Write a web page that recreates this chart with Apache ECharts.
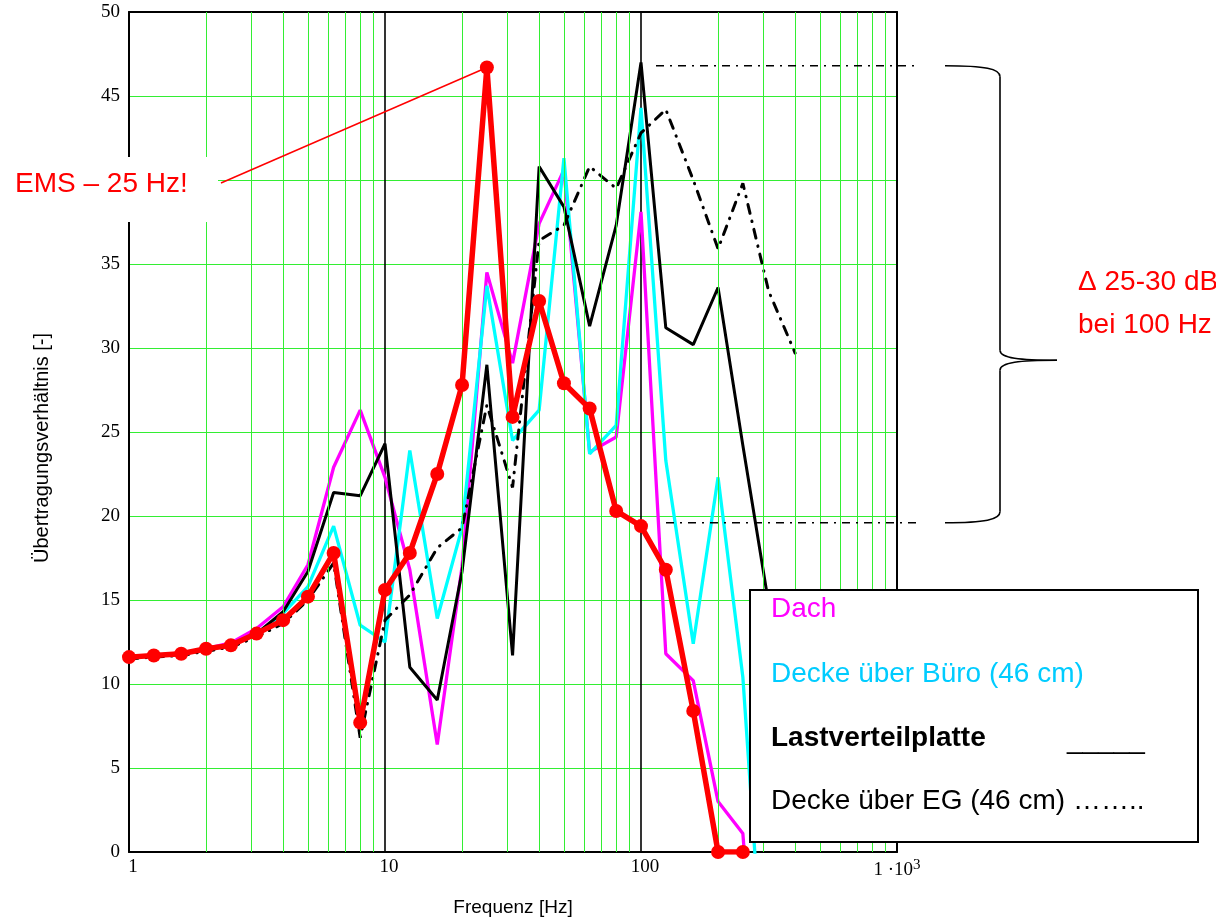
<!DOCTYPE html>
<html>
<head>
<meta charset="utf-8">
<script src="https://cdn.jsdelivr.net/npm/echarts@6/dist/echarts.min.js"></script>
<style>
html,body{margin:0;padding:0;background:#fff;}
#chart{width:1216px;height:923px;}
</style>
</head>
<body>
<div id="chart"></div>
<script>
// Third-octave frequencies [Hz]
const freq = [1,1.25,1.6,2,2.5,3.15,4,5,6.3,8,10,12.5,16,20,25,31.5,40,50,63,80,100,125,160,200,250,315,400];
// Series values (Übertragungsverhältnis)
const dach = [11.6,11.7,11.85,12.1,12.45,13.3,14.6,17.1,22.9,26.3,22.3,16.8,6.4,17.0,34.5,29.1,37.4,40.6,23.8,24.7,38.1,11.8,10.2,3.0,1.1,-19];
const buero = [11.6,11.7,11.8,12.05,12.3,13.0,14.2,15.8,19.4,13.5,12.5,23.9,13.9,19.3,33.7,24.5,26.3,41.3,23.7,25.4,44.3,23.3,12.4,22.3,10.4,-12];
const lastplatte = [11.6,11.7,11.8,12.05,12.3,13.0,14.3,16.7,21.4,21.2,24.3,11.0,9.05,16.7,29.0,11.7,40.8,38.4,31.3,37.3,47.0,31.2,30.2,33.6,24.2,14.8];
const eg = [11.5,11.6,11.7,11.95,12.2,12.8,13.6,15.0,17.2,6.8,13.8,15.3,18.1,19.3,26.6,21.7,36.4,37.3,40.8,39.5,42.8,44.2,40.0,35.9,39.8,33.4,29.7];
const ems = [11.6,11.7,11.8,12.1,12.3,13.0,13.8,15.2,17.8,7.7,15.6,17.8,22.5,27.8,46.7,25.9,32.8,27.9,26.4,20.3,19.4,16.8,8.4,0,0];
// Axis ticks
const xMajor = [1,10,100,1000];
const xMinor = [2,3,4,5,6,7,8,9,20,30,40,50,60,70,80,90,200,300,400,500,600,700,800,900];
// Annotation levels (values)
const deltaLevels = [46.8, 19.6];

function pairs(vals){ return vals.map((v,i)=>[freq[i], v]); }

const GREEN = '#33ee33';
const SANS = 'Liberation Sans, Arial, sans-serif';
const SERIF = 'Liberation Serif, Times New Roman, serif';

const chart = echarts.init(document.getElementById('chart'));
const option = {
  animation:false,
  backgroundColor:'#fff',
  grid:{left:129,right:319,top:12,bottom:71,containLabel:false},
  xAxis:[{
    type:'log',logBase:10,min:1,max:1000,
    axisLine:{show:true,lineStyle:{color:'#000',width:2}},
    axisTick:{show:false},
    axisLabel:{
      show:true,showMinLabel:true,showMaxLabel:true,margin:6,
      color:'#000',fontFamily:SERIF,fontSize:19,
      formatter:function(v){ return v===1000 ? '{b|1 ·10}{sup|3}' : '{a|'+v+'}'; },
      rich:{
        a:{fontFamily:SERIF,fontSize:19,color:'#000',padding:[0,0,0,8]},
        b:{fontFamily:SERIF,fontSize:19,color:'#000'},
        sup:{fontFamily:SERIF,fontSize:15,color:'#000',verticalAlign:'top',padding:[0,0,10,0]}
      }
    },
    splitLine:{show:true,lineStyle:{color:'#000',width:1.6}},
    name:'Frequenz [Hz]',nameLocation:'middle',nameGap:46,
    nameTextStyle:{fontFamily:SANS,fontSize:19,color:'#000'}
  },{
    type:'log',logBase:10,min:1,max:1000,position:'top',z:3,
    axisLine:{show:true,onZero:false,lineStyle:{color:'#000',width:2}},
    axisTick:{show:false},axisLabel:{show:false},splitLine:{show:false}
  }],
  yAxis:[{
    type:'value',min:0,max:50,interval:5,
    axisLine:{show:true,lineStyle:{color:'#000',width:2}},
    axisTick:{show:false},
    axisLabel:{color:'#000',fontFamily:SERIF,fontSize:19,margin:9},
    splitLine:{show:true,lineStyle:{color:GREEN,width:1}}
  },{
    type:'value',min:0,max:50,interval:5,position:'right',z:3,
    axisLine:{show:true,onZero:false,lineStyle:{color:'#000',width:2}},
    axisTick:{show:false},axisLabel:{show:false},splitLine:{show:false}
  }],
  series:[
    {type:'line',name:'grid',data:[],z:1,silent:true,
     markLine:{silent:true,symbol:['none','none'],label:{show:false},animation:false,
       lineStyle:{color:GREEN,width:1,type:'solid'},
       data:xMinor.map(v=>({xAxis:v}))}},
    {type:'line',name:'Dach',data:pairs(dach),symbol:'none',z:2,
     lineStyle:{color:'#ff00ff',width:3.3},itemStyle:{color:'#ff00ff'}},
    {type:'line',name:'Decke über Büro (46 cm)',data:pairs(buero),symbol:'none',z:2,
     lineStyle:{color:'#00ffff',width:3.3},itemStyle:{color:'#00ffff'}},
    {type:'line',name:'Lastverteilplatte',data:pairs(lastplatte),symbol:'none',z:3,
     lineStyle:{color:'#000',width:3},itemStyle:{color:'#000'}},
    {type:'line',name:'Decke über EG (46 cm)',data:pairs(eg),symbol:'none',z:3,
     lineStyle:{color:'#000',width:3,type:[9,8,0.5,8],cap:'round'},itemStyle:{color:'#000'}},
    {type:'line',name:'EMS',data:pairs(ems),symbol:'circle',symbolSize:14,z:5,
     lineStyle:{color:'#ff0000',width:5.5},itemStyle:{color:'#ff0000'}}
  ]
};
chart.setOption(option);

const peak = chart.convertToPixel({xAxisIndex:0,yAxisIndex:0},[25,ems[14]]);
const yTop = chart.convertToPixel({xAxisIndex:0,yAxisIndex:0},[100,deltaLevels[0]])[1];
const yBot = chart.convertToPixel({xAxisIndex:0,yAxisIndex:0},[100,deltaLevels[1]])[1];
const yMid = (yTop+yBot)/2 + 66;

const dd = [8,6,2,6];
const braceStyle = {stroke:'#000',lineWidth:1.6,fill:null};
const F = '28px '+SANS;
chart.setOption({graphic:[
  // white box behind EMS label
  {type:'rect',z:100,shape:{x:0,y:157,width:218,height:65},style:{fill:'#fff'}},
  {type:'text',z:101,x:15,y:184,style:{text:'EMS – 25 Hz!',fill:'#ff0000',font:F,verticalAlign:'middle'}},
  {type:'line',z:101,shape:{x1:221,y1:183,x2:peak[0],y2:peak[1]},style:{stroke:'#ff0000',lineWidth:1.5}},
  // delta annotation lines
  {type:'line',z:101,shape:{x1:656,y1:yTop,x2:916,y2:yTop},style:{stroke:'#000',lineWidth:1.5,lineDash:dd}},
  {type:'line',z:101,shape:{x1:666,y1:yBot,x2:920,y2:yBot},style:{stroke:'#000',lineWidth:1.5,lineDash:dd}},
  // brace
  {type:'bezierCurve',z:101,shape:{x1:945,y1:yTop,cpx1:985,cpy1:yTop,cpx2:1000,cpy2:yTop+3,x2:1000,y2:yTop+11},style:braceStyle},
  {type:'line',z:101,shape:{x1:1000,y1:yTop+11,x2:1000,y2:yMid-10},style:braceStyle},
  {type:'bezierCurve',z:101,shape:{x1:1000,y1:yMid-10,cpx1:1000,cpy1:yMid-2,cpx2:1020,cpy2:yMid,x2:1057,y2:yMid},style:braceStyle},
  {type:'bezierCurve',z:101,shape:{x1:1057,y1:yMid,cpx1:1020,cpy1:yMid,cpx2:1000,cpy2:yMid+2,x2:1000,y2:yMid+10},style:braceStyle},
  {type:'line',z:101,shape:{x1:1000,y1:yMid+10,x2:1000,y2:yBot-11},style:braceStyle},
  {type:'bezierCurve',z:101,shape:{x1:1000,y1:yBot-11,cpx1:1000,cpy1:yBot-3,cpx2:985,cpy2:yBot,x2:945,y2:yBot},style:braceStyle},
  {type:'text',z:101,x:1078,y:282,style:{text:'Δ 25-30 dB',fill:'#ff0000',font:F,verticalAlign:'middle'}},
  {type:'text',z:101,x:1078,y:325,style:{text:'bei 100 Hz',fill:'#ff0000',font:F,verticalAlign:'middle'}},
  // y axis title
  {type:'text',z:101,x:42,y:448,rotation:Math.PI/2,style:{text:'Übertragungsverhältnis [-]',fill:'#000',font:'20px '+SANS,align:'center',verticalAlign:'middle'}},
  // legend box
  {type:'rect',z:110,shape:{x:750,y:590,width:448,height:252},style:{fill:'#fff',stroke:'#000',lineWidth:2}},
  {type:'text',z:111,x:771,y:609,style:{text:'Dach',fill:'#ff00ff',font:F,verticalAlign:'middle'}},
  {type:'text',z:111,x:771,y:674,style:{text:'Decke über Büro (46 cm)',fill:'#00ccff',font:F,verticalAlign:'middle'}},
  {type:'text',z:111,x:771,y:738,style:{text:'Lastverteilplatte',fill:'#000',font:'bold '+F,verticalAlign:'middle'}},
  {type:'text',z:111,x:1067,y:740,style:{text:'_____',fill:'#000',font:F,verticalAlign:'middle'}},
  {type:'text',z:111,x:771,y:801,style:{text:'Decke über EG (46 cm) ……..',fill:'#000',font:F,verticalAlign:'middle'}}
]});
</script>
</body>
</html>
